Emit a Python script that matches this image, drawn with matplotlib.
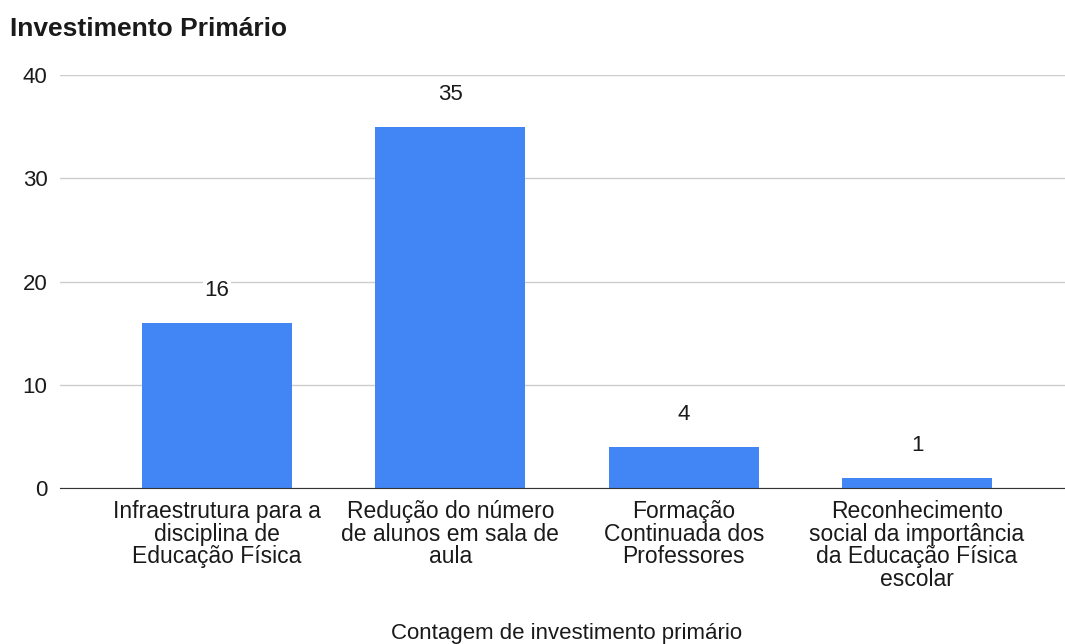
import matplotlib
matplotlib.use("Agg")
import matplotlib.pyplot as plt

categories = [
    "Infraestrutura para a\ndisciplina de\nEducação Física",
    "Redução do número\nde alunos em sala de\naula",
    "Formação\nContinuada dos\nProfessores",
    "Reconhecimento\nsocial da importância\nda Educação Física\nescolar",
]
values = [16, 35, 4, 1]
yticks = [0, 10, 20, 30, 40]

plt.rcParams['font.family'] = ['Liberation Sans', 'DejaVu Sans']

W, H = 1065, 644
fig = plt.figure(figsize=(W / 100, H / 100), dpi=100)
left, right, bottom, top = 60, 1065, 488, 75
ax = fig.add_axes([left / W, 1 - bottom / H, (right - left) / W, (bottom - top) / H])

FS = 16
x = list(range(len(categories)))
ax.bar(x, values, width=0.643, color='#4285F4', zorder=3)
for xi, v in zip(x, values):
    ax.text(xi, v + 3.15, str(v), ha='center', va='center', fontsize=FS, color='#1a1a1a',
            zorder=4, bbox=dict(facecolor='white', edgecolor='none', pad=1))

ax.set_xlim(-0.673, 3.634)
ax.set_ylim(0, 40)
ax.set_yticks(yticks)
ax.set_yticklabels([str(t) for t in yticks], fontsize=FS, color='#1a1a1a')
ax.set_xticks(x)
ax.set_xticklabels(categories, fontsize=16.5, color='#1a1a1a', linespacing=0.99)
ax.tick_params(axis='both', length=0)
ax.tick_params(axis='x', pad=8.5)
ax.tick_params(axis='y', pad=9)
ax.grid(axis='y', color='#cccccc', linewidth=1, zorder=0)
for s in ['top', 'right', 'left']:
    ax.spines[s].set_visible(False)
ax.spines['bottom'].set_color('#333333')
ax.spines['bottom'].set_zorder(4)

fig.text(10 / W, 1 - 29 / H, "Investimento Primário", fontsize=19, fontweight='bold',
         ha='left', va='center', color='#1a1a1a')
fig.text(567 / W, 1 - 633 / H, "Contagem de investimento primário", fontsize=16,
         ha='center', va='center', color='#1a1a1a')

fig.savefig("out.png", dpi=100)
